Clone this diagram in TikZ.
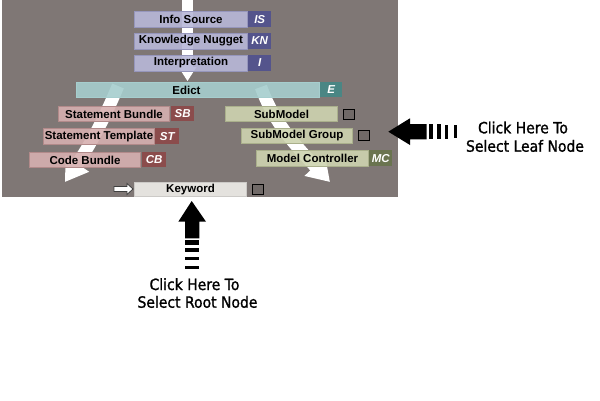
\documentclass[tikz,border=0pt]{standalone}
\usepackage{fontspec}
\usetikzlibrary{arrows.meta}
\newfontfamily\boxfamily{Liberation Sans}
\newfontfamily\notefamily{DejaVu Sans}[FakeStretch=0.9,FakeBold=1.2]
\definecolor{panelgrey}{RGB}{127,119,117}
\definecolor{bfill}{RGB}{184,184,216}
\definecolor{bdraw}{RGB}{150,150,188}
\definecolor{btag}{RGB}{84,84,140}
\definecolor{efill}{RGB}{166,206,206}
\definecolor{etag}{RGB}{74,134,132}
\definecolor{lfill}{RGB}{214,176,176}
\definecolor{ldraw}{RGB}{178,138,138}
\definecolor{ltag}{RGB}{139,76,76}
\definecolor{rfill}{RGB}{206,212,176}
\definecolor{rdraw}{RGB}{170,176,140}
\definecolor{rtag}{RGB}{106,116,80}
\definecolor{kfill}{RGB}{240,238,234}
\tikzset{
  box/.style={draw, line width=1pt, inner sep=0pt, anchor=north west,
    minimum height=16pt, fill opacity=0.9, text opacity=1, text=black,
    font=\boxfamily\fontsize{11.5}{13}\selectfont\bfseries},
  bluebox/.style={box, fill=bfill, draw=bdraw},
  leftbox/.style={box, fill=lfill, draw=ldraw},
  rightbox/.style={box, fill=rfill, draw=rdraw},
  tag/.style={inner sep=0pt, anchor=north west, minimum height=16pt, text=white,
    font=\boxfamily\fontsize{11.5}{13}\selectfont\bfseries\itshape},
  tickbox/.style={draw=black, line width=1.3pt, fill=panelgrey!88!black,
    inner sep=0pt, anchor=north west, minimum width=11pt, minimum height=10pt},
  band/.style={white, line width=12.5pt, -{Triangle[width=27pt,length=22pt]}},
  note/.style={anchor=base, text=black,
    font=\notefamily\fontsize{15.5}{18}\selectfont}
}
\begin{document}
\begin{tikzpicture}[x=1pt,y=-1pt]
\useasboundingbox (0,0) rectangle (600,400);
\fill[white] (0,0) rectangle (600,400);
% panel
\fill[panelgrey] (2,0) rectangle (398,197);
% white bands
\fill[white] (182,0) rectangle (193,70);
\fill[white] (178.5,67) -- (196.5,67) -- (187.5,81) -- cycle;
\draw[band] (118,86) .. controls (106,115) and (92,142) .. (65,182);
\draw[band] (261,87) .. controls (272,118) and (290,140) .. (330,182);
% top stack
\node[bluebox, minimum width=113pt] (info) at (134,11) {Info Source};
\node[tag, fill=btag, minimum width=23pt] (infot) at (248,11) {IS};
\node[bluebox, minimum width=113pt] (kn) at (134,32.5) {Knowledge Nugget};
\node[tag, fill=btag, minimum width=23pt] (knt) at (248,32.5) {KN};
\node[bluebox, minimum width=113pt] (interp) at (134,54.5) {Interpretation};
\node[tag, fill=btag, minimum width=23pt] (interpt) at (248,54.5) {I};
% edict
\node[box, fill=efill, draw=efill, minimum width=243pt, minimum height=15pt] (edict) at (76,82) {\hspace*{-23pt}Edict};
\node[tag, fill=etag, minimum width=22pt, minimum height=15pt] (edictt) at (320,82) {E};
% left stack
\node[leftbox, minimum width=111pt, minimum height=15pt] (sb) at (58,106) {Statement Bundle};
\node[tag, fill=ltag, minimum width=23pt, minimum height=15pt] (sbt) at (171,106) {SB};
\node[leftbox, minimum width=111pt] (st) at (43,128) {Statement Template};
\node[tag, fill=ltag, minimum width=24pt] (stt) at (155,128) {ST};
\node[leftbox, minimum width=111pt, minimum height=15pt] (cb) at (29,152) {Code Bundle};
\node[tag, fill=ltag, minimum width=24pt, minimum height=15pt] (cbt) at (142,152) {CB};
% right stack
\node[rightbox, minimum width=112pt, minimum height=15pt] (sm) at (225,106) {SubModel};
\node[tickbox] (smsq) at (342.5,109) {};
\node[rightbox, minimum width=111pt, minimum height=15pt] (smg) at (241,128) {SubModel Group};
\node[tickbox] (smgsq) at (357.5,130) {};
\node[rightbox, minimum width=112pt] (mc) at (256,150) {Model Controller};
\node[tag, fill=rtag, minimum width=23pt] (mct) at (369,150) {MC};
% keyword
\node[box, fill=kfill, draw=kfill!85!black, minimum width=112pt, minimum height=14pt] (kw) at (134,182) {Keyword};
\node[tickbox] (kwsq) at (251.5,183.5) {};
\draw[fill=white, draw=black!75, line width=0.8pt]
  (114,186.5) -- (127,186.5) -- (127,183.5) -- (133,189) -- (127,194.5) -- (127,191.5) -- (114,191.5) -- cycle;
% leaf annotation arrow
\fill[black] (388.3,131.7) -- (410,118.3) -- (410,124) -- (426.7,124) -- (426.7,139.3) -- (410,139.3) -- (410,145) -- cycle;
\fill[black] (429.3,124) rectangle (433.3,139.3);
\fill[black] (437.3,124) rectangle (440.7,139.3);
\fill[black] (445.3,124.5) rectangle (448.3,138.8);
\fill[black] (454,125) rectangle (456.7,138.3);
\node[note] (leaf1) at (523,133.3) {Click Here To};
\node[note] (leaf2) at (525,151.7) {Select Leaf Node};
% root annotation arrow
\fill[black] (191.7,201) -- (206,221.7) -- (199.3,221.7) -- (199.3,238.3) -- (185,238.3) -- (185,221.7) -- (178.3,221.7) -- cycle;
\fill[black] (185,240) rectangle (199.3,245);
\fill[black] (185,248.3) rectangle (199.3,252.3);
\fill[black] (185,256.7) rectangle (199.3,260);
\fill[black] (185,265.7) rectangle (199.3,269);
\node[note] (root1) at (194.5,290) {Click Here To};
\node[note] (root2) at (197.5,307.7) {Select Root Node};
\end{tikzpicture}
\end{document}
